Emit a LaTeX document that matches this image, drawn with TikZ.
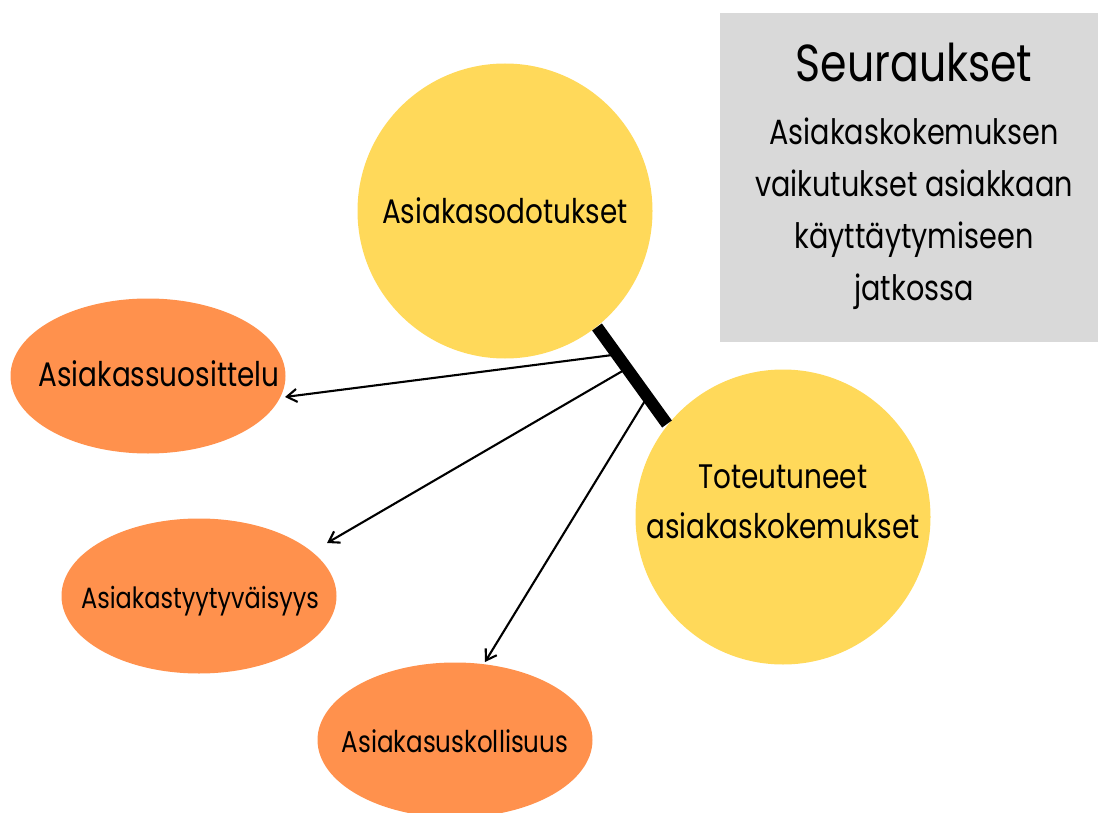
\documentclass[tikz,border=0pt]{standalone}
\usepackage{fontspec}
\setmainfont[FakeStretch=0.82]{Poppins}
\usetikzlibrary{shapes.geometric,arrows.meta,calc}
\definecolor{goldfill}{HTML}{FFD95A}
\definecolor{orangefill}{HTML}{FF914D}
\definecolor{panelgray}{HTML}{D9D9D9}
\newcommand{\fsz}[1]{\fontsize{#1}{#1}\selectfont}

\begin{document}
\begin{tikzpicture}[x=1pt,y=-1pt,
  bubble/.style={circle,fill=goldfill,minimum size=295pt,inner sep=0pt},
  oval/.style={ellipse,fill=orangefill,minimum width=275pt,minimum height=155pt,inner sep=0pt},
  arr/.style={line width=2.1pt,-{Straight Barb[length=10pt,width=13pt,line width=2.1pt]}},
  bar/.style={line width=12pt,line cap=butt},
  line/.style={anchor=base,inner sep=0pt}]
\useasboundingbox (0,0) rectangle (1098,813);

% summary panel
\node[fill=panelgray,minimum width=378pt,minimum height=329pt,anchor=north west,inner sep=0pt] (panel) at (720,13) {};
\node[line,font=\fsz{52}] (ptitle) at (914,82) {Seuraukset};
\node[line,font=\fsz{35}] (pl1) at (914,145) {Asiakaskokemuksen};
\node[line,font=\fsz{35}] (pl2) at (914,197) {vaikutukset asiakkaan};
\node[line,font=\fsz{35}] (pl3) at (914,249) {käyttäytymiseen};
\node[line,font=\fsz{35}] (pl4) at (914,301) {jatkossa};

% expectation and experience bubbles
\node[bubble] (expect) at (505,211) {};
\node[line,font=\fsz{34}] (expectlbl) at (505,224) {Asiakasodotukset};
\node[bubble] (real) at (783,517) {};
\node[line,font=\fsz{34}] (real1) at (783,488) {Toteutuneet};
\node[line,font=\fsz{34}] (real2) at (783,538) {asiakaskokemukset};

% outcome ovals
\node[oval] (recommend) at (148,376) {};
\node[line,font=\fsz{34}] (recommendlbl) at (159,386) {Asiakassuosittelu};
\node[oval] (satisf) at (199,596) {};
\node[line,font=\fsz{29.3}] (satisflbl) at (200,608) {Asiakastyytyväisyys};
\node[oval] (loyal) at (455,740) {};
\node[line,font=\fsz{30}] (loyallbl) at (455,752) {Asiakasuskollisuus};

% link between the bubbles
\coordinate (b1) at (597,327);
\coordinate (b2) at (667,424);

% arrow ends just off the ovals
\coordinate (t1) at (285,397);
\coordinate (t2) at (327,543);
\coordinate (t3) at (485,662);

\draw[arr] ($(b1)!0.283!(b2)$) -- (t1);
\draw[arr] ($(b1)!0.427!(b2)$) -- (t2);
\draw[arr] ($(b1)!0.72!(b2)$) -- (t3);
\draw[bar] (b1) -- (b2);
\end{tikzpicture}
\end{document}
